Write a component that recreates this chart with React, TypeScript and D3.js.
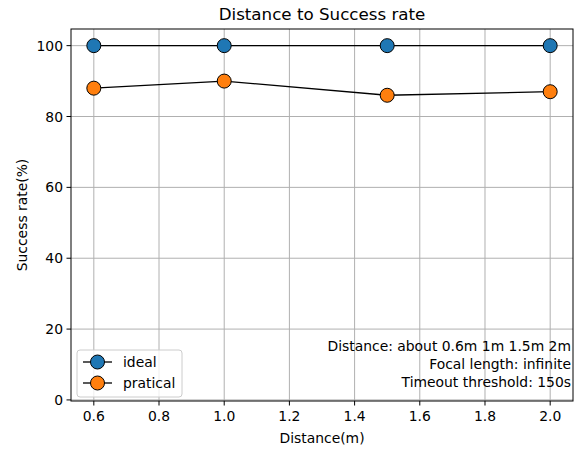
import React from "react";
import * as d3 from "d3";

const distances = [0.6, 1.0, 1.5, 2.0];
const ideal = [100, 100, 100, 100];
const pratical = [88, 90, 86, 87];
const xTicks = [0.6, 0.8, 1.0, 1.2, 1.4, 1.6, 1.8, 2.0];
const yTicks = [0, 20, 40, 60, 80, 100];
const seriesNames = ["ideal", "pratical"];
const seriesColors = ["#1f77b4", "#ff7f0e"];
const noteLines = ["Distance: about 0.6m 1m 1.5m 2m", "Focal length: infinite", "Timeout threshold: 150s"];

const W = 579, H = 449;
const L = 71, R = 573, T = 29, B = 401;
const FONT = "DejaVu Sans, sans-serif";
const FS = 13.9;

export default function App() {
  const x = d3.scaleLinear().domain([0.53, 2.07]).range([L, R]);
  const y = d3.scaleLinear().domain([-0.3, 104.7]).range([B, T]);
  const line = d3.line<[number, number]>().x(d => x(d[0])).y(d => y(d[1]));
  const series = [ideal, pratical];
  return (
    <svg width={W} height={H} style={{ position: "absolute", left: 0, top: 0 }} fontFamily={FONT}>
      <rect width={W} height={H} fill="#fff" />
      <text x={(L + R) / 2} y={20} textAnchor="middle" fontSize={16.7} fill="#000">Distance to Success rate</text>
      {xTicks.map(t => (
        <line key={"gx" + t} x1={x(t)} x2={x(t)} y1={T} y2={B} stroke="#b0b0b0" strokeWidth={1} />
      ))}
      {yTicks.map(t => (
        <line key={"gy" + t} x1={L} x2={R} y1={y(t)} y2={y(t)} stroke="#b0b0b0" strokeWidth={1} />
      ))}
      {series.map((s, i) => (
        <path key={"l" + i} d={line(distances.map((d, j) => [d, s[j]]) as [number, number][]) || ""} fill="none" stroke="#000" strokeWidth={1.3} />
      ))}
      {series.map((s, i) =>
        s.map((v, j) => (
          <circle key={"c" + i + j} cx={x(distances[j])} cy={y(v)} r={7} fill={seriesColors[i]} stroke="#000" strokeWidth={1} />
        ))
      )}
      <rect x={L} y={T} width={R - L} height={B - T} fill="none" stroke="#000" strokeWidth={1} />
      {xTicks.map(t => (
        <g key={"xt" + t}>
          <line x1={x(t)} x2={x(t)} y1={B} y2={B + 4.5} stroke="#000" />
          <text x={x(t)} y={B + 20} textAnchor="middle" fontSize={FS}>{t.toFixed(1)}</text>
        </g>
      ))}
      {yTicks.map(t => (
        <g key={"yt" + t}>
          <line x1={L - 4.5} x2={L} y1={y(t)} y2={y(t)} stroke="#000" />
          <text x={L - 8} y={y(t) + 5} textAnchor="end" fontSize={FS}>{t}</text>
        </g>
      ))}
      <text x={(L + R) / 2} y={443} textAnchor="middle" fontSize={FS}>Distance(m)</text>
      <text transform={`translate(27,${(T + B) / 2}) rotate(-90)`} textAnchor="middle" fontSize={FS}>Success rate(%)</text>
      <rect x={77} y={350} width={105} height={47} rx={3} fill="#fff" fillOpacity={0.8} stroke="#cccccc" strokeWidth={1} />
      {seriesNames.map((n, i) => (
        <g key={"lg" + n}>
          <line x1={83} x2={112} y1={362 + i * 21} y2={362 + i * 21} stroke="#000" strokeWidth={1.3} />
          <circle cx={97.5} cy={362 + i * 21} r={7} fill={seriesColors[i]} stroke="#000" />
          <text x={123} y={367 + i * 21} fontSize={FS}>{n}</text>
        </g>
      ))}
      {noteLines.map((s, i) => (
        <text key={"n" + i} x={571} y={351 + i * 18} textAnchor="end" fontSize={FS}>{s}</text>
      ))}
    </svg>
  );
}
